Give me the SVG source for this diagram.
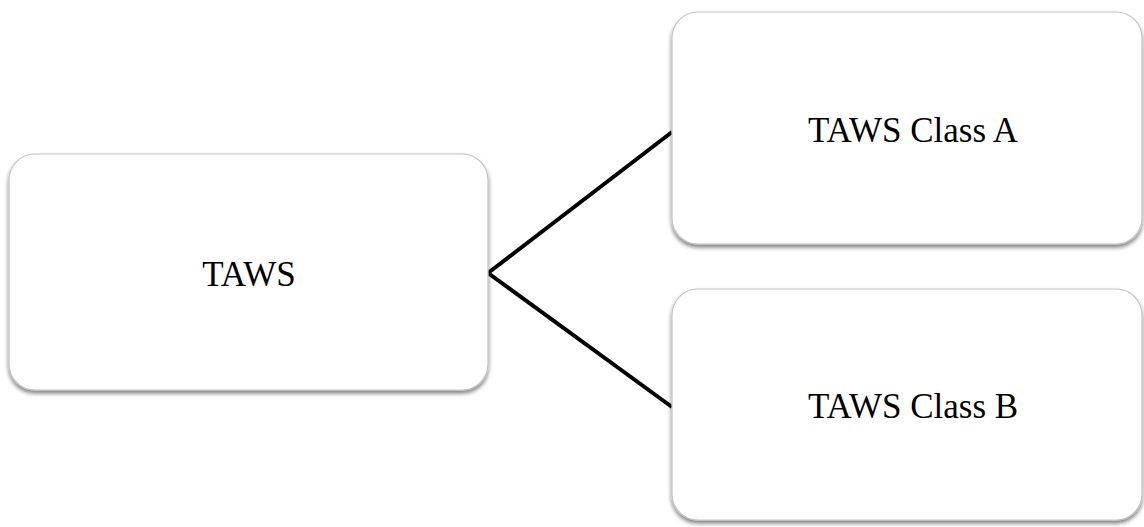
<svg xmlns="http://www.w3.org/2000/svg" width="1144" height="527" viewBox="0 0 1144 527">
<style>
.box{fill:#ffffff;stroke:#c4c4c4;stroke-width:1.2;filter:url(#sh)}
.lbl{font-family:"Liberation Serif","DejaVu Serif",serif;font-size:35px;fill:#000;text-anchor:middle}
.con{stroke:#000;stroke-width:4;fill:none;stroke-linecap:butt}
</style>
<defs>
<filter id="sh" x="-5%" y="-5%" width="110%" height="115%">
<feGaussianBlur in="SourceAlpha" stdDeviation="2"/>
<feOffset dx="0" dy="3" result="b"/>
<feComponentTransfer><feFuncA type="linear" slope="0.5"/></feComponentTransfer>
<feMerge><feMergeNode/><feMergeNode in="SourceGraphic"/></feMerge>
</filter>
</defs>
<rect width="1144" height="527" fill="#ffffff"/>
<g id="connectors">
<line class="con" x1="488" y1="273" x2="672" y2="132"/>
<line class="con" x1="488" y1="273" x2="672" y2="407"/>
</g>
<g id="node-taws">
<rect class="box" x="9" y="154" width="479" height="236" rx="26"/>
<text class="lbl" x="249" y="286">TAWS</text>
</g>
<g id="node-class-a">
<rect class="box" x="672" y="12" width="470" height="232" rx="26"/>
<text class="lbl" x="913" y="142">TAWS Class A</text>
</g>
<g id="node-class-b">
<rect class="box" x="672" y="289" width="470" height="231" rx="26"/>
<text class="lbl" x="913" y="418">TAWS Class B</text>
</g>
</svg>
